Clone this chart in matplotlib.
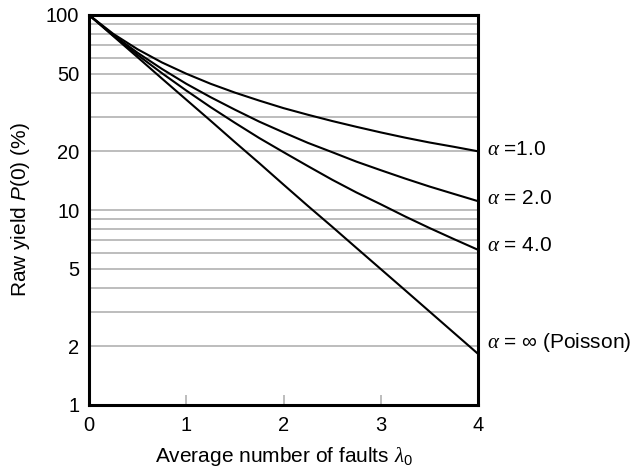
import matplotlib
matplotlib.use("Agg")
import matplotlib.pyplot as plt
from matplotlib.ticker import FixedLocator, NullFormatter, NullLocator

plt.rcParams['font.family'] = ['Liberation Sans', 'DejaVu Sans']
plt.rcParams['mathtext.fontset'] = 'custom'
plt.rcParams['mathtext.rm'] = 'Liberation Sans'
plt.rcParams['mathtext.it'] = 'Liberation Serif:italic'
plt.rcParams['mathtext.sf'] = 'Liberation Sans:italic'

# Average number of faults
lam = [0, 0.25, 0.5, 0.75, 1, 1.25, 1.5, 1.75, 2, 2.25, 2.5, 2.75, 3, 3.25, 3.5, 3.75, 4]
# Raw yield (%)
y_a1 = [100, 80.0, 66.7, 57.1, 50.0, 44.4, 40.0, 36.4, 33.3, 30.8, 28.6, 26.7, 25.0, 23.5, 22.2, 21.1, 20.0]
y_a2 = [100, 79.0, 64.0, 52.9, 44.4, 37.9, 32.7, 28.4, 25.0, 22.1, 19.8, 17.7, 16.0, 14.5, 13.2, 12.1, 11.1]
y_a4 = [100, 78.5, 62.4, 50.3, 41.0, 33.7, 28.0, 23.4, 19.8, 16.8, 14.3, 12.3, 10.7, 9.27, 8.09, 7.10, 6.25]
y_poisson = [100, 77.9, 60.7, 47.2, 36.8, 28.7, 22.3, 17.4, 13.5, 10.5, 8.21, 6.39, 4.98, 3.88, 3.02, 2.35, 1.83]

series = [y_a1, y_a2, y_a4, y_poisson]
labels = [r'$\alpha$ =1.0', r'$\alpha$ = 2.0', r'$\alpha$ = 4.0', r'$\alpha$ = $\infty$ (Poisson)']
label_y = [20.5, 11.4, 6.55, 2.1]

xticks = [0, 1, 2, 3, 4]
yticks = [1, 2, 5, 10, 20, 50, 100]
grid_vals = [2, 3, 4, 5, 6, 7, 8, 9, 10, 20, 30, 40, 50, 60, 70, 80, 90]

fig = plt.figure(figsize=(6.34, 4.72), dpi=100)
ax = fig.add_axes([89/634, 67/472, 389/634, 390/472])
ax.set_yscale('log')
ax.set_xlim(0, 4)
ax.set_ylim(1, 100)

for g in grid_vals:
    ax.axhline(g, color='#ababab', lw=1.1, zorder=1)

for ys in series:
    ax.plot(lam, ys, color='black', lw=1.5, zorder=3, solid_joinstyle='round')

for lab, ly in zip(labels, label_y):
    ax.text(4.09, ly, lab, fontsize=15, va='center', ha='left', clip_on=False)

ax.yaxis.set_major_locator(FixedLocator(yticks))
ax.yaxis.set_minor_locator(NullLocator())
ax.yaxis.set_minor_formatter(NullFormatter())
ax.set_yticklabels([str(t) for t in yticks])
ax.tick_params(axis='y', length=0, labelsize=14.5, pad=7)
ax.set_xticks(xticks)
ax.set_xticklabels([str(t) for t in xticks])
ax.tick_params(axis='x', direction='in', length=7, width=1.1, color='#ababab', labelsize=14.5, pad=8)

for sp in ax.spines.values():
    sp.set_linewidth(2.2)
    sp.set_color('black')
    sp.set_zorder(4)

ax.set_xlabel(r'Average number of faults $\lambda_0$', fontsize=15, labelpad=7)
ax.set_ylabel(r'Raw yield $\mathsf{P}$(0) (%)', fontsize=15, labelpad=10)

fig.savefig('out.png', dpi=100)
